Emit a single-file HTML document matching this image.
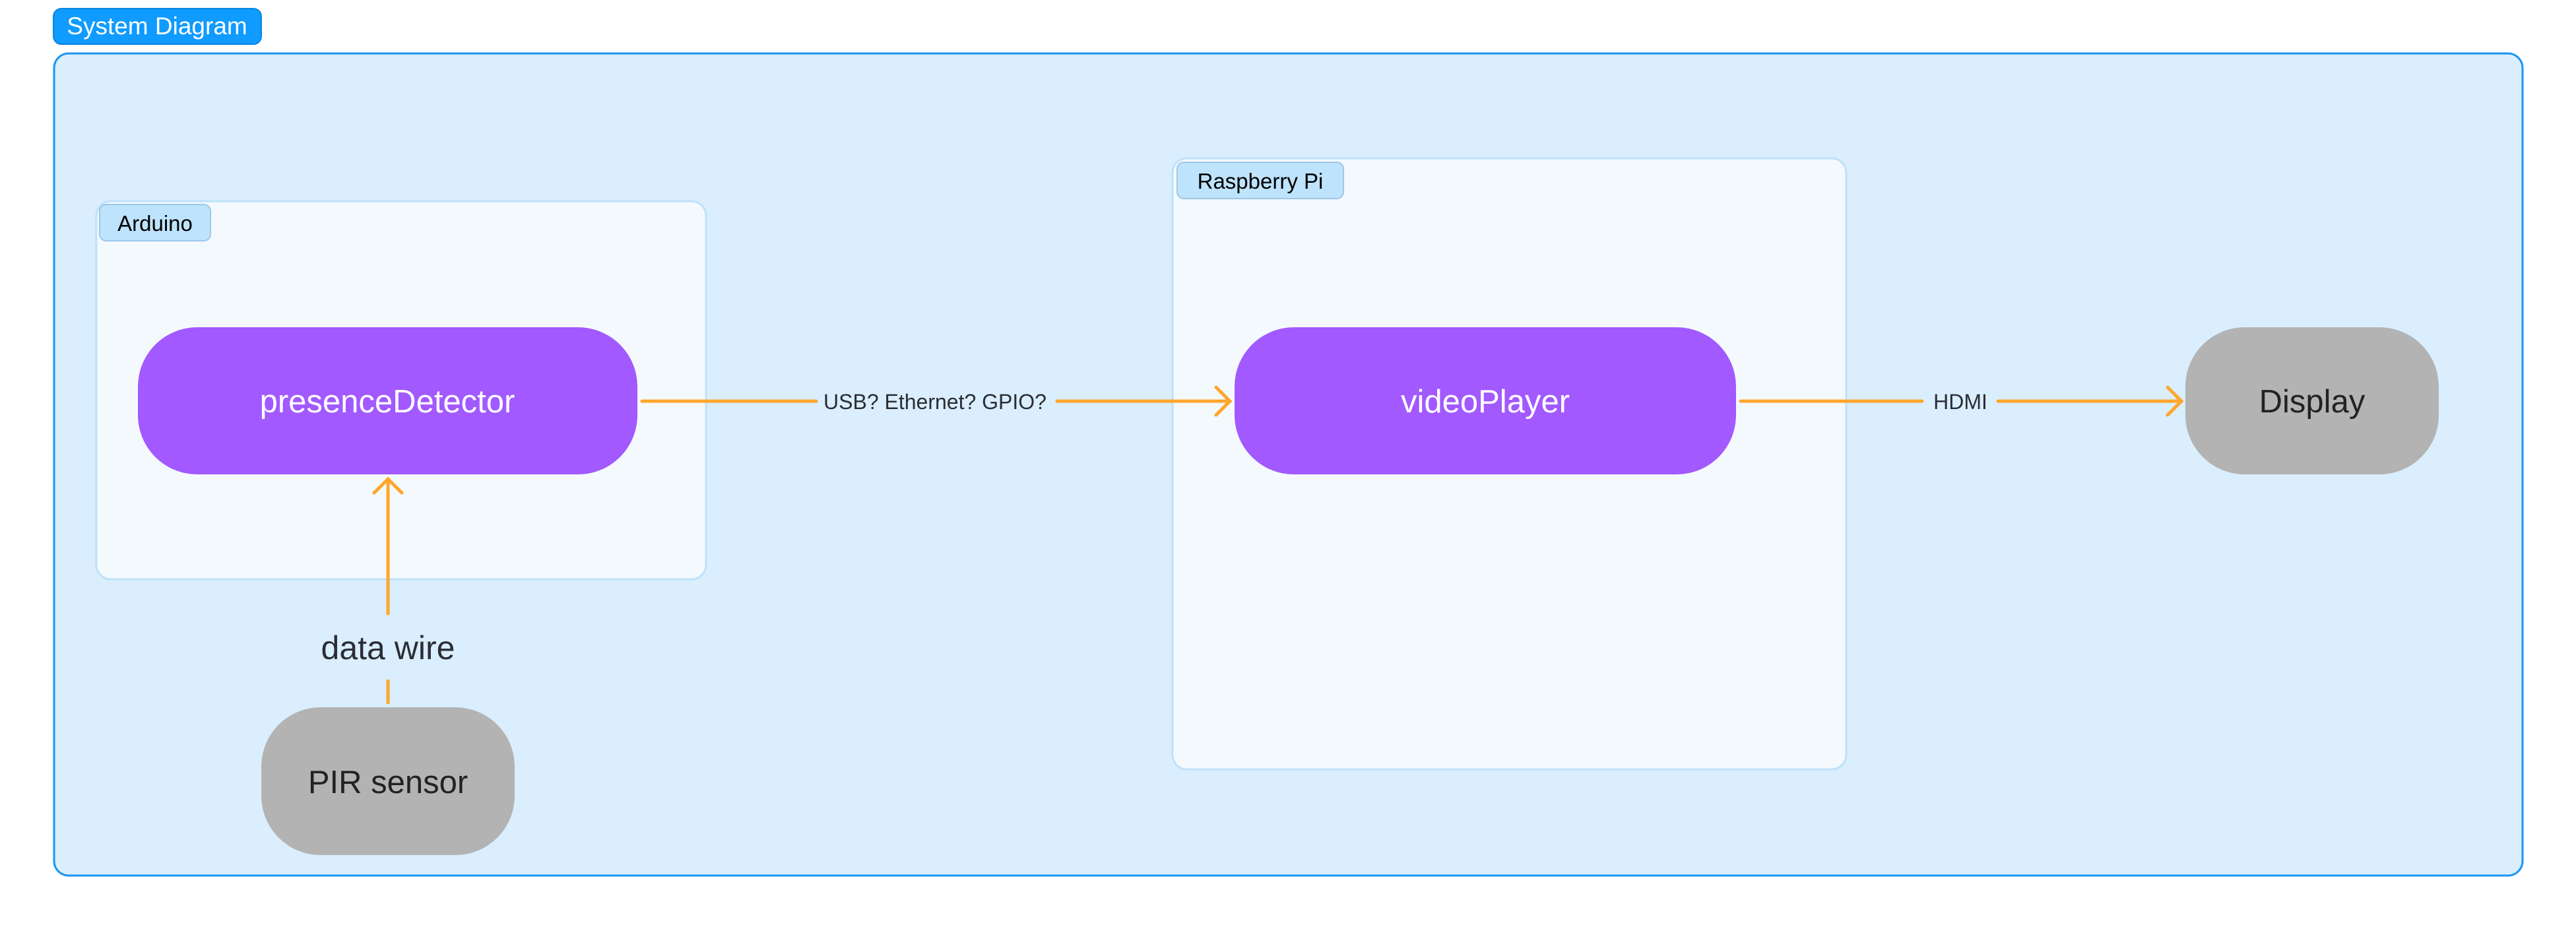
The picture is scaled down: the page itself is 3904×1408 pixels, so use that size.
<!DOCTYPE html>
<html><head><meta charset="utf-8"><style>
html,body{margin:0;padding:0;background:#fff;}
svg{display:block;}
text{font-family:"Liberation Sans",sans-serif;}
</style></head><body>
<svg width="3904" height="1408" viewBox="0 0 3904 1408" xmlns="http://www.w3.org/2000/svg">
<rect x="82" y="81" width="3741" height="1246" rx="22" fill="#DAEEFD" stroke="#1A96F2" stroke-width="3"/>
<rect x="81" y="13" width="315" height="54" rx="12" fill="#0F9BFF" stroke="#0A86E0" stroke-width="2"/>
<text x="238" y="52" font-size="37" fill="#fff" text-anchor="middle">System Diagram</text>

<rect x="146" y="305" width="924" height="573" rx="22" fill="#F4F9FE" stroke="#BEE2FA" stroke-width="3"/>
<rect x="151" y="310" width="168" height="55" rx="10" fill="#BEE3FD" stroke="#9FC6E6" stroke-width="2"/>
<text x="235" y="350" font-size="33" fill="#000" text-anchor="middle">Arduino</text>

<rect x="1777" y="240" width="1021" height="926" rx="22" fill="#F4F9FE" stroke="#BEE2FA" stroke-width="3"/>
<rect x="1784" y="246" width="252" height="55" rx="10" fill="#BEE3FD" stroke="#9FC6E6" stroke-width="2"/>
<text x="1910" y="286" font-size="33" fill="#000" text-anchor="middle">Raspberry Pi</text>

<rect x="209" y="496" width="757" height="223" rx="90" fill="#A259FF"/>
<text x="587" y="625" font-size="49" fill="#fff" text-anchor="middle">presenceDetector</text>

<rect x="1871" y="496" width="760" height="223" rx="90" fill="#A259FF"/>
<text x="2251" y="625" font-size="49" fill="#fff" text-anchor="middle">videoPlayer</text>

<rect x="3312" y="496" width="384" height="223" rx="90" fill="#B3B3B3"/>
<text x="3504" y="625" font-size="49" fill="#222" text-anchor="middle">Display</text>

<rect x="396" y="1072" width="384" height="224" rx="90" fill="#B3B3B3"/>
<text x="588" y="1202" font-size="49" fill="#222" text-anchor="middle">PIR sensor</text>

<g stroke="#FFA62B" stroke-width="5" stroke-linecap="round" fill="none">
<line x1="973" y1="608" x2="1237" y2="608"/>
<line x1="1602" y1="608" x2="1864" y2="608"/>
<polyline points="1843,587 1864,608 1843,629"/>
<line x1="2638" y1="608" x2="2913" y2="608"/>
<line x1="3028" y1="608" x2="3306" y2="608"/>
<polyline points="3285,587 3306,608 3285,629"/>
<line x1="588" y1="1065" x2="588" y2="1032"/>
<line x1="588" y1="930" x2="588" y2="726"/>
<polyline points="567,747 588,726 609,747"/>
</g>
<text x="1417" y="620" font-size="32" fill="#2A2D34" text-anchor="middle">USB? Ethernet? GPIO?</text>
<text x="2971" y="620" font-size="32" fill="#2A2D34" text-anchor="middle">HDMI</text>
<text x="588" y="999" font-size="50" fill="#2A2D34" text-anchor="middle">data wire</text>
</svg>
</body></html>
